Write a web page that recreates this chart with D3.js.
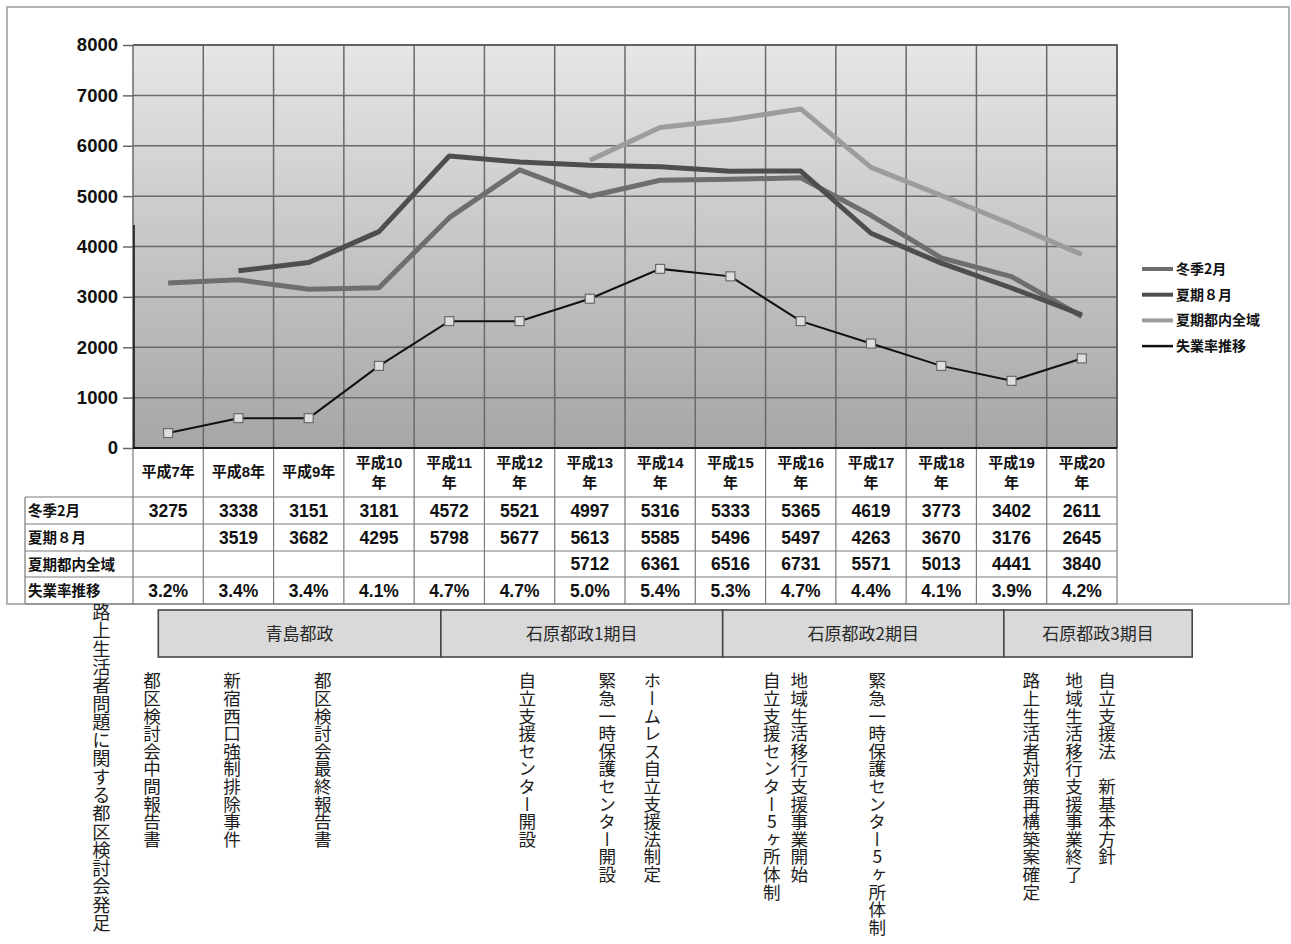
<!DOCTYPE html>
<html>
<head>
<meta charset="utf-8">
<script src="https://cdn.jsdelivr.net/npm/d3@7"></script>
<style>
  html, body { margin: 0; padding: 0; background: #fff; }
  svg { display: block; }
</style>
</head>
<body>
<svg id="chart" width="1291" height="944"></svg>
<script>
// 調査年（平成）
const years = ["平成7年","平成8年","平成9年","平成10年","平成11年","平成12年","平成13年","平成14年","平成15年","平成16年","平成17年","平成18年","平成19年","平成20年"];
const headerLines = [["平成7年"],["平成8年"],["平成9年"],["平成10","年"],["平成11","年"],["平成12","年"],["平成13","年"],["平成14","年"],["平成15","年"],["平成16","年"],["平成17","年"],["平成18","年"],["平成19","年"],["平成20","年"]];

// 路上生活者数（人）
const winterFeb = [3275,3338,3151,3181,4572,5521,4997,5316,5333,5365,4619,3773,3402,2611];
const summerAug = [null,3519,3682,4295,5798,5677,5613,5585,5496,5497,4263,3670,3176,2645];
const summerAllTokyo = [null,null,null,null,null,null,5712,6361,6516,6731,5571,5013,4441,3840];
// 完全失業率（%）
const unemployment = [3.2,3.4,3.4,4.1,4.7,4.7,5.0,5.4,5.3,4.7,4.4,4.1,3.9,4.2];

const seriesNames = ["冬季2月","夏期８月","夏期都内全域","失業率推移"];
const yTicks = [0,1000,2000,3000,4000,5000,6000,7000,8000];

// 都政の期間（平成年、小数は年の途中）
const termNames = ["青島都政","石原都政1期目","石原都政2期目","石原都政3期目"];
const termBounds = [6.86, 10.88, 14.89, 18.89, 21.57];

// 施策・出来事（平成年）
const eventLabels = [
  "路上生活者問題に関する都区検討会発足",
  "都区検討会中間報告書",
  "新宿西口強制排除事件",
  "都区検討会最終報告書",
  "自立支援センター開設",
  "緊急一時保護センター開設",
  "ホームレス自立支援法制定",
  "自立支援センター5ヶ所体制",
  "地域生活移行支援事業開始",
  "緊急一時保護センター5ヶ所体制",
  "路上生活者対策再構築案確定",
  "地域生活移行支援事業終了",
  "自立支援法　新基本方針"
];
const eventYears = [6.05, 6.77, 7.91, 9.2, 12.11, 13.25, 13.89, 15.59, 15.98, 17.09, 19.28, 19.89, 20.36];

const svg = d3.select("#chart");
const sansB = "'Liberation Sans', Arial, 'Noto Sans CJK JP', sans-serif";
const jp = "'Noto Sans CJK JP', sans-serif";

const plot = { left: 133, right: 1117, top: 45, bottom: 448 };
const tableLeft = 25;
const rowEdges = [448, 497, 524, 551, 577, 604];

const x = d3.scaleBand().domain(d3.range(years.length)).range([plot.left, plot.right]).padding(0);
const xc = i => x(i) + x.bandwidth() / 2;
const y = d3.scaleLinear().domain([0, 8000]).range([plot.bottom, plot.top]);
const y2 = d3.scaleLinear().domain([3, 8.4]).range([plot.bottom, plot.top]);

// 外枠
svg.append("rect").attr("x", 7).attr("y", 7).attr("width", 1282).attr("height", 597)
  .attr("fill", "#fff").attr("stroke", "#b4b4b4").attr("stroke-width", 2);

// プロット背景のグラデーション
const defs = svg.append("defs");
const grad = defs.append("linearGradient").attr("id", "bg").attr("x1", 0).attr("y1", 0).attr("x2", 0).attr("y2", 1);
grad.append("stop").attr("offset", "0%").attr("stop-color", "#e6e6e6");
grad.append("stop").attr("offset", "100%").attr("stop-color", "#a6a6a6");
svg.append("rect").attr("x", plot.left).attr("y", plot.top)
  .attr("width", plot.right - plot.left).attr("height", plot.bottom - plot.top)
  .attr("fill", "url(#bg)");

// グリッド
const grid = svg.append("g").attr("stroke", "#6a6a6a").attr("stroke-width", 1.5);
grid.selectAll("line.h").data(yTicks.slice(1)).join("line").attr("class", "h")
  .attr("x1", plot.left).attr("x2", plot.right).attr("y1", d => y(d)).attr("y2", d => y(d));
grid.selectAll("line.v").data(d3.range(years.length + 1)).join("line").attr("class", "v")
  .attr("x1", i => plot.left + i * x.bandwidth()).attr("x2", i => plot.left + i * x.bandwidth())
  .attr("y1", plot.top).attr("y2", plot.bottom);

// Y軸
const yAxis = svg.append("g").attr("transform", `translate(${plot.left},0)`)
  .call(d3.axisLeft(y).tickValues(yTicks).tickSize(10).tickPadding(5).tickFormat(d3.format("d")));
yAxis.select(".domain").remove();
yAxis.selectAll(".tick line").attr("stroke", "#666").attr("stroke-width", 1.5);
yAxis.selectAll(".tick text").attr("fill", "#111").style("font-family", sansB)
  .style("font-size", "18.5px").style("font-weight", "bold");
svg.append("line").attr("x1", plot.left + 1).attr("x2", plot.left + 1).attr("y1", 225).attr("y2", plot.bottom)
  .attr("stroke", "#111").attr("stroke-width", 1.5);

// 系列
const lineGen = d3.line().defined(d => d != null).x((d, i) => xc(i)).y(d => y(d));
const seriesDefs = [
  { data: winterFeb, color: "#6e6e6e" },
  { data: summerAug, color: "#4e4e4e" },
  { data: summerAllTokyo, color: "#9c9c9c" }
];
seriesDefs.forEach(s => {
  svg.append("path").datum(s.data).attr("d", lineGen)
    .attr("fill", "none").attr("stroke", s.color).attr("stroke-width", 5)
    .attr("stroke-linejoin", "round").attr("stroke-linecap", "butt");
});
const rateLine = d3.line().x((d, i) => xc(i)).y(d => y2(d));
svg.append("path").datum(unemployment).attr("d", rateLine)
  .attr("fill", "none").attr("stroke", "#111").attr("stroke-width", 2);
svg.selectAll("rect.mk").data(unemployment).join("rect").attr("class", "mk")
  .attr("x", (d, i) => xc(i) - 4.5).attr("y", d => y2(d) - 4.5)
  .attr("width", 9).attr("height", 9)
  .attr("fill", "#dedede").attr("stroke", "#6a6a6a").attr("stroke-width", 1.2);

// 上・右の枠
svg.append("path").attr("d", `M${plot.left},${plot.top}H${plot.right}V${plot.bottom}`)
  .attr("fill", "none").attr("stroke", "#555").attr("stroke-width", 1.5);

// データテーブル
const tbl = svg.append("g").attr("stroke", "#7a7a7a").attr("stroke-width", 1.2);
tbl.selectAll("line.cv").data(d3.range(years.length + 1)).join("line").attr("class", "cv")
  .attr("x1", i => plot.left + i * x.bandwidth()).attr("x2", i => plot.left + i * x.bandwidth())
  .attr("y1", rowEdges[0]).attr("y2", rowEdges[5]);
tbl.selectAll("line.rh").data(rowEdges.slice(1, 5)).join("line").attr("class", "rh")
  .attr("x1", tableLeft).attr("x2", plot.right).attr("y1", d => d).attr("y2", d => d);
tbl.append("line").attr("x1", tableLeft).attr("x2", tableLeft).attr("y1", rowEdges[1]).attr("y2", rowEdges[5]);
tbl.append("line").attr("x1", tableLeft).attr("x2", plot.right).attr("y1", rowEdges[5]).attr("y2", rowEdges[5]);

// X軸（テーブル上端）
svg.append("line").attr("x1", plot.left).attr("x2", plot.right).attr("y1", plot.bottom).attr("y2", plot.bottom)
  .attr("stroke", "#111").attr("stroke-width", 2);

// 見出し行
const head = svg.append("g").style("font-family", sansB).style("font-weight", "bold")
  .style("font-size", "15px").attr("fill", "#111").attr("text-anchor", "middle");
headerLines.forEach((lines, i) => {
  const t = head.append("text").attr("x", xc(i));
  if (lines.length === 1) {
    t.attr("y", 477).text(lines[0]);
  } else {
    t.append("tspan").attr("x", xc(i)).attr("y", 468).text(lines[0]);
    t.append("tspan").attr("x", xc(i)).attr("y", 488).text(lines[1]);
  }
});

// データ行
const rows = [
  { name: seriesNames[0], vals: winterFeb.map(v => v == null ? "" : String(v)) },
  { name: seriesNames[1], vals: summerAug.map(v => v == null ? "" : String(v)) },
  { name: seriesNames[2], vals: summerAllTokyo.map(v => v == null ? "" : String(v)) },
  { name: seriesNames[3], vals: unemployment.map(v => v.toFixed(1) + "%") }
];
const body = svg.append("g").attr("fill", "#111").style("font-weight", "bold");
rows.forEach((r, ri) => {
  const cy = (rowEdges[ri + 1] + rowEdges[ri + 2]) / 2 + 6;
  body.append("text").attr("x", tableLeft + 3).attr("y", cy - 0.5)
    .style("font-family", jp).style("font-size", "14.5px").text(r.name);
  r.vals.forEach((v, i) => {
    if (!v) return;
    body.append("text").attr("x", xc(i)).attr("y", cy).attr("text-anchor", "middle")
      .style("font-family", sansB).style("font-size", "17.5px").text(v);
  });
});

// 凡例
const legend = svg.append("g").attr("transform", "translate(1142,269)");
const legendColors = ["#6e6e6e", "#4e4e4e", "#9c9c9c", "#111"];
const legendWidths = [4, 4, 4, 2.5];
seriesNames.forEach((n, i) => {
  const g = legend.append("g").attr("transform", `translate(0,${i * 25.7})`);
  g.append("line").attr("x1", 0).attr("x2", 31).attr("y1", 0).attr("y2", 0)
    .attr("stroke", legendColors[i]).attr("stroke-width", legendWidths[i]);
  g.append("text").attr("x", 34).attr("y", 5).attr("fill", "#111")
    .style("font-family", jp).style("font-weight", "bold").style("font-size", "14px").text(n);
});

// 都政の期間
const tx = d3.scaleLinear().domain([7, 20]).range([xc(0), xc(13)]);
const terms = svg.append("g");
termNames.forEach((n, i) => {
  const x0 = tx(termBounds[i]), x1 = tx(termBounds[i + 1]);
  terms.append("rect").attr("x", x0).attr("y", 610).attr("width", x1 - x0).attr("height", 47)
    .attr("fill", "#d9d9d9").attr("stroke", "#454545").attr("stroke-width", 1.6);
  terms.append("text").attr("x", (x0 + x1) / 2).attr("y", 640).attr("text-anchor", "middle")
    .attr("fill", "#2a2a2a").style("font-family", jp).style("font-size", "17px").text(n);
});

// 出来事（縦書き）
const ev = svg.append("g").attr("fill", "#1e1e1e").style("font-family", jp);
eventLabels.forEach((label, i) => {
  ev.append("text").attr("x", tx(eventYears[i])).attr("y", i === 0 ? 603 : 672)
    .style("font-size", i === 0 ? "18.3px" : "17.6px")
    .style("writing-mode", "vertical-rl").style("text-orientation", "upright")
    .text(label);
});
</script>
</body>
</html>
